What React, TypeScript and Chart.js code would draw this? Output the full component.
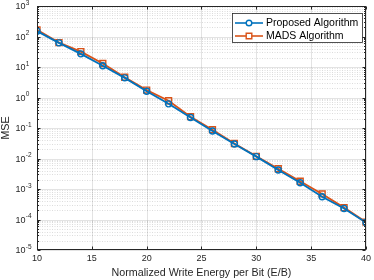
import React, { useEffect, useRef } from 'react';
import { Chart, registerables } from 'chart.js';

Chart.register(...registerables);

const xValues = [10, 12, 14, 16, 18, 20, 22, 24, 26, 28, 30, 32, 34, 36, 38, 40];
const proposedMSE = [150, 62, 27, 11, 4.4, 1.6, 0.62, 0.22, 0.08, 0.030, 0.0115, 0.0042, 0.0016, 0.00056, 0.00023, 0.00008];
const madsMSE = [165, 63, 32, 13, 4.6, 1.75, 0.78, 0.235, 0.088, 0.031, 0.0118, 0.0046, 0.0018, 0.00069, 0.000245, 0.000082];
const xTicks = [10, 15, 20, 25, 30, 35, 40];
const yExponents = [-5, -4, -3, -2, -1, 0, 1, 2, 3];
const seriesLabels = ['Proposed Algorithm', 'MADS Algorithm'];
const xTitle = 'Normalized Write Energy per Bit (E/B)';
const yTitle = 'MSE';

const FONT = '"Liberation Sans", Arial, Helvetica, sans-serif';
const AXIS = '#262626';
const BLUE = '#0072BD';
const ORANGE = '#D95319';

const matlabPlugin = {
  id: 'matlabDecor',
  beforeDatasetsDraw(chart: any) {
    const { ctx, chartArea: a, scales } = chart;
    const xs = scales.x;
    const ys = scales.y;
    ctx.save();
    ctx.lineWidth = 1;
    ctx.strokeStyle = 'rgba(38,38,38,0.16)';
    ctx.setLineDash([1, 1.5]);
    for (let i = 0; i < yExponents.length - 1; i++) {
      for (let m = 2; m <= 9; m++) {
        const y = Math.round(ys.getPixelForValue(m * Math.pow(10, yExponents[i]))) + 0.5;
        ctx.beginPath();
        ctx.moveTo(a.left, y);
        ctx.lineTo(a.right, y);
        ctx.stroke();
      }
    }
    ctx.setLineDash([]);
    ctx.strokeStyle = 'rgba(38,38,38,0.13)';
    for (const e of yExponents) {
      const y = Math.round(ys.getPixelForValue(Math.pow(10, e))) + 0.5;
      ctx.beginPath();
      ctx.moveTo(a.left, y);
      ctx.lineTo(a.right, y);
      ctx.stroke();
    }
    for (const t of xTicks) {
      const x = Math.round(xs.getPixelForValue(t)) + 0.5;
      ctx.beginPath();
      ctx.moveTo(x, a.top);
      ctx.lineTo(x, a.bottom);
      ctx.stroke();
    }
    ctx.restore();
  },
  afterDatasetsDraw(chart: any) {
    const { ctx, chartArea: a, scales } = chart;
    const xs = scales.x;
    const ys = scales.y;
    ctx.save();
    ctx.strokeStyle = AXIS;
    ctx.lineWidth = 1;
    const L = Math.round(a.left) + 0.5;
    const R = Math.round(a.right) - 0.5;
    const T = Math.round(a.top) + 0.5;
    const B = Math.round(a.bottom) - 0.5;
    ctx.strokeRect(L, T, R - L, B - T);
    for (const t of xTicks) {
      const x = Math.round(xs.getPixelForValue(t)) + 0.5;
      ctx.beginPath();
      ctx.moveTo(x, B); ctx.lineTo(x, B - 3);
      ctx.moveTo(x, T); ctx.lineTo(x, T + 3);
      ctx.stroke();
    }
    for (let i = 0; i < yExponents.length; i++) {
      const y = Math.round(ys.getPixelForValue(Math.pow(10, yExponents[i]))) + 0.5;
      ctx.beginPath();
      ctx.moveTo(L, y); ctx.lineTo(L + 3, y);
      ctx.moveTo(R, y); ctx.lineTo(R - 3, y);
      ctx.stroke();
      if (i < yExponents.length - 1) {
        for (let m = 2; m <= 9; m++) {
          const ym = Math.round(ys.getPixelForValue(m * Math.pow(10, yExponents[i]))) + 0.5;
          ctx.beginPath();
          ctx.moveTo(L, ym); ctx.lineTo(L + 1.5, ym);
          ctx.moveTo(R, ym); ctx.lineTo(R - 1.5, ym);
          ctx.stroke();
        }
      }
    }
    ctx.fillStyle = AXIS;
    ctx.textBaseline = 'middle';
    for (const e of yExponents) {
      const y = ys.getPixelForValue(Math.pow(10, e));
      ctx.font = `9px ${FONT}`;
      ctx.textAlign = 'right';
      ctx.fillText('10', 25.5, y + 1);
      ctx.font = `6.5px ${FONT}`;
      ctx.textAlign = 'left';
      ctx.fillText(String(e), 25.8, y - 3);
    }
    const lx = 232, ly = 13, lw = 130, lh = 29;
    ctx.fillStyle = '#ffffff';
    ctx.fillRect(lx, ly, lw, lh);
    ctx.strokeStyle = AXIS;
    ctx.lineWidth = 0.8;
    ctx.strokeRect(lx + 0.5, ly + 0.5, lw, lh);
    const colors = [BLUE, ORANGE];
    const rows = [23, 36];
    for (let i = 0; i < seriesLabels.length; i++) {
      const y = rows[i];
      ctx.strokeStyle = colors[i];
      ctx.lineWidth = 1.6;
      ctx.beginPath();
      ctx.moveTo(235, y);
      ctx.lineTo(263, y);
      ctx.stroke();
      ctx.fillStyle = '#ffffff';
      ctx.lineWidth = 1.4;
      ctx.beginPath();
      if (i === 0) {
        ctx.arc(249, y, 2.8, 0, Math.PI * 2);
      } else {
        ctx.rect(246.2, y - 2.8, 5.6, 5.6);
      }
      ctx.fill();
      ctx.stroke();
      ctx.fillStyle = '#000000';
      ctx.font = `10.5px ${FONT}`;
      ctx.textAlign = 'left';
      ctx.textBaseline = 'middle';
      ctx.fillText(seriesLabels[i], 266, y + 0.5);
    }
    ctx.restore();
  },
};

export default function App() {
  const ref = useRef<HTMLCanvasElement | null>(null);
  useEffect(() => {
    document.body.style.margin = '0';
    const canvas = ref.current;
    if (!canvas) return;
    const chart = new Chart(canvas, {
      type: 'line',
      data: {
        datasets: [
          {
            label: seriesLabels[0],
            data: xValues.map((x, i) => ({ x, y: proposedMSE[i] })),
            borderColor: BLUE,
            backgroundColor: 'rgba(0,0,0,0)',
            borderWidth: 1.8,
            pointStyle: 'circle',
            pointRadius: 3,
            pointBorderWidth: 1.4,
            pointBorderColor: BLUE,
            pointBackgroundColor: 'rgba(255,255,255,0)',
            tension: 0,
          },
          {
            label: seriesLabels[1],
            data: xValues.map((x, i) => ({ x, y: madsMSE[i] })),
            borderColor: ORANGE,
            backgroundColor: 'rgba(0,0,0,0)',
            borderWidth: 1.8,
            pointStyle: 'rect',
            pointRadius: 4.2,
            pointBorderWidth: 1.4,
            pointBorderColor: ORANGE,
            pointBackgroundColor: 'rgba(255,255,255,0)',
            tension: 0,
          },
        ],
      },
      options: {
        responsive: false,
        animation: false,
        devicePixelRatio: 1,
        layout: { padding: { left: 0, right: 4, top: 6, bottom: 0 } },
        plugins: {
          legend: { display: false },
          tooltip: { enabled: false },
        },
        scales: {
          x: {
            type: 'linear',
            min: 10,
            max: 40,
            afterFit: (s: any) => { s.height = 30; },
            afterBuildTicks: (s: any) => { s.ticks = xTicks.map((v) => ({ value: v })); },
            grid: { display: false, drawTicks: false },
            border: { display: false },
            ticks: {
              padding: 3,
              color: AXIS,
              font: { family: FONT, size: 9 },
              maxRotation: 0,
              callback: (v: any) => String(v),
            },
            title: {
              display: true,
              text: xTitle,
              color: AXIS,
              font: { family: FONT, size: 10.7 },
              padding: { top: 0, bottom: 1 },
            },
          },
          y: {
            type: 'logarithmic',
            min: 1e-5,
            max: 1e3,
            afterFit: (s: any) => { s.width = 37; },
            grid: { display: false, drawTicks: false },
            border: { display: false },
            ticks: { display: false },
            title: {
              display: true,
              text: yTitle,
              color: AXIS,
              font: { family: FONT, size: 10.7 },
              padding: { top: 0, bottom: 0 },
            },
          },
        },
      },
      plugins: [matlabPlugin],
    });
    return () => chart.destroy();
  }, []);
  return (
    <div style={{ width: 374, height: 280 }}>
      <canvas ref={ref} width={374} height={280} style={{ display: 'block' }} />
    </div>
  );
}
